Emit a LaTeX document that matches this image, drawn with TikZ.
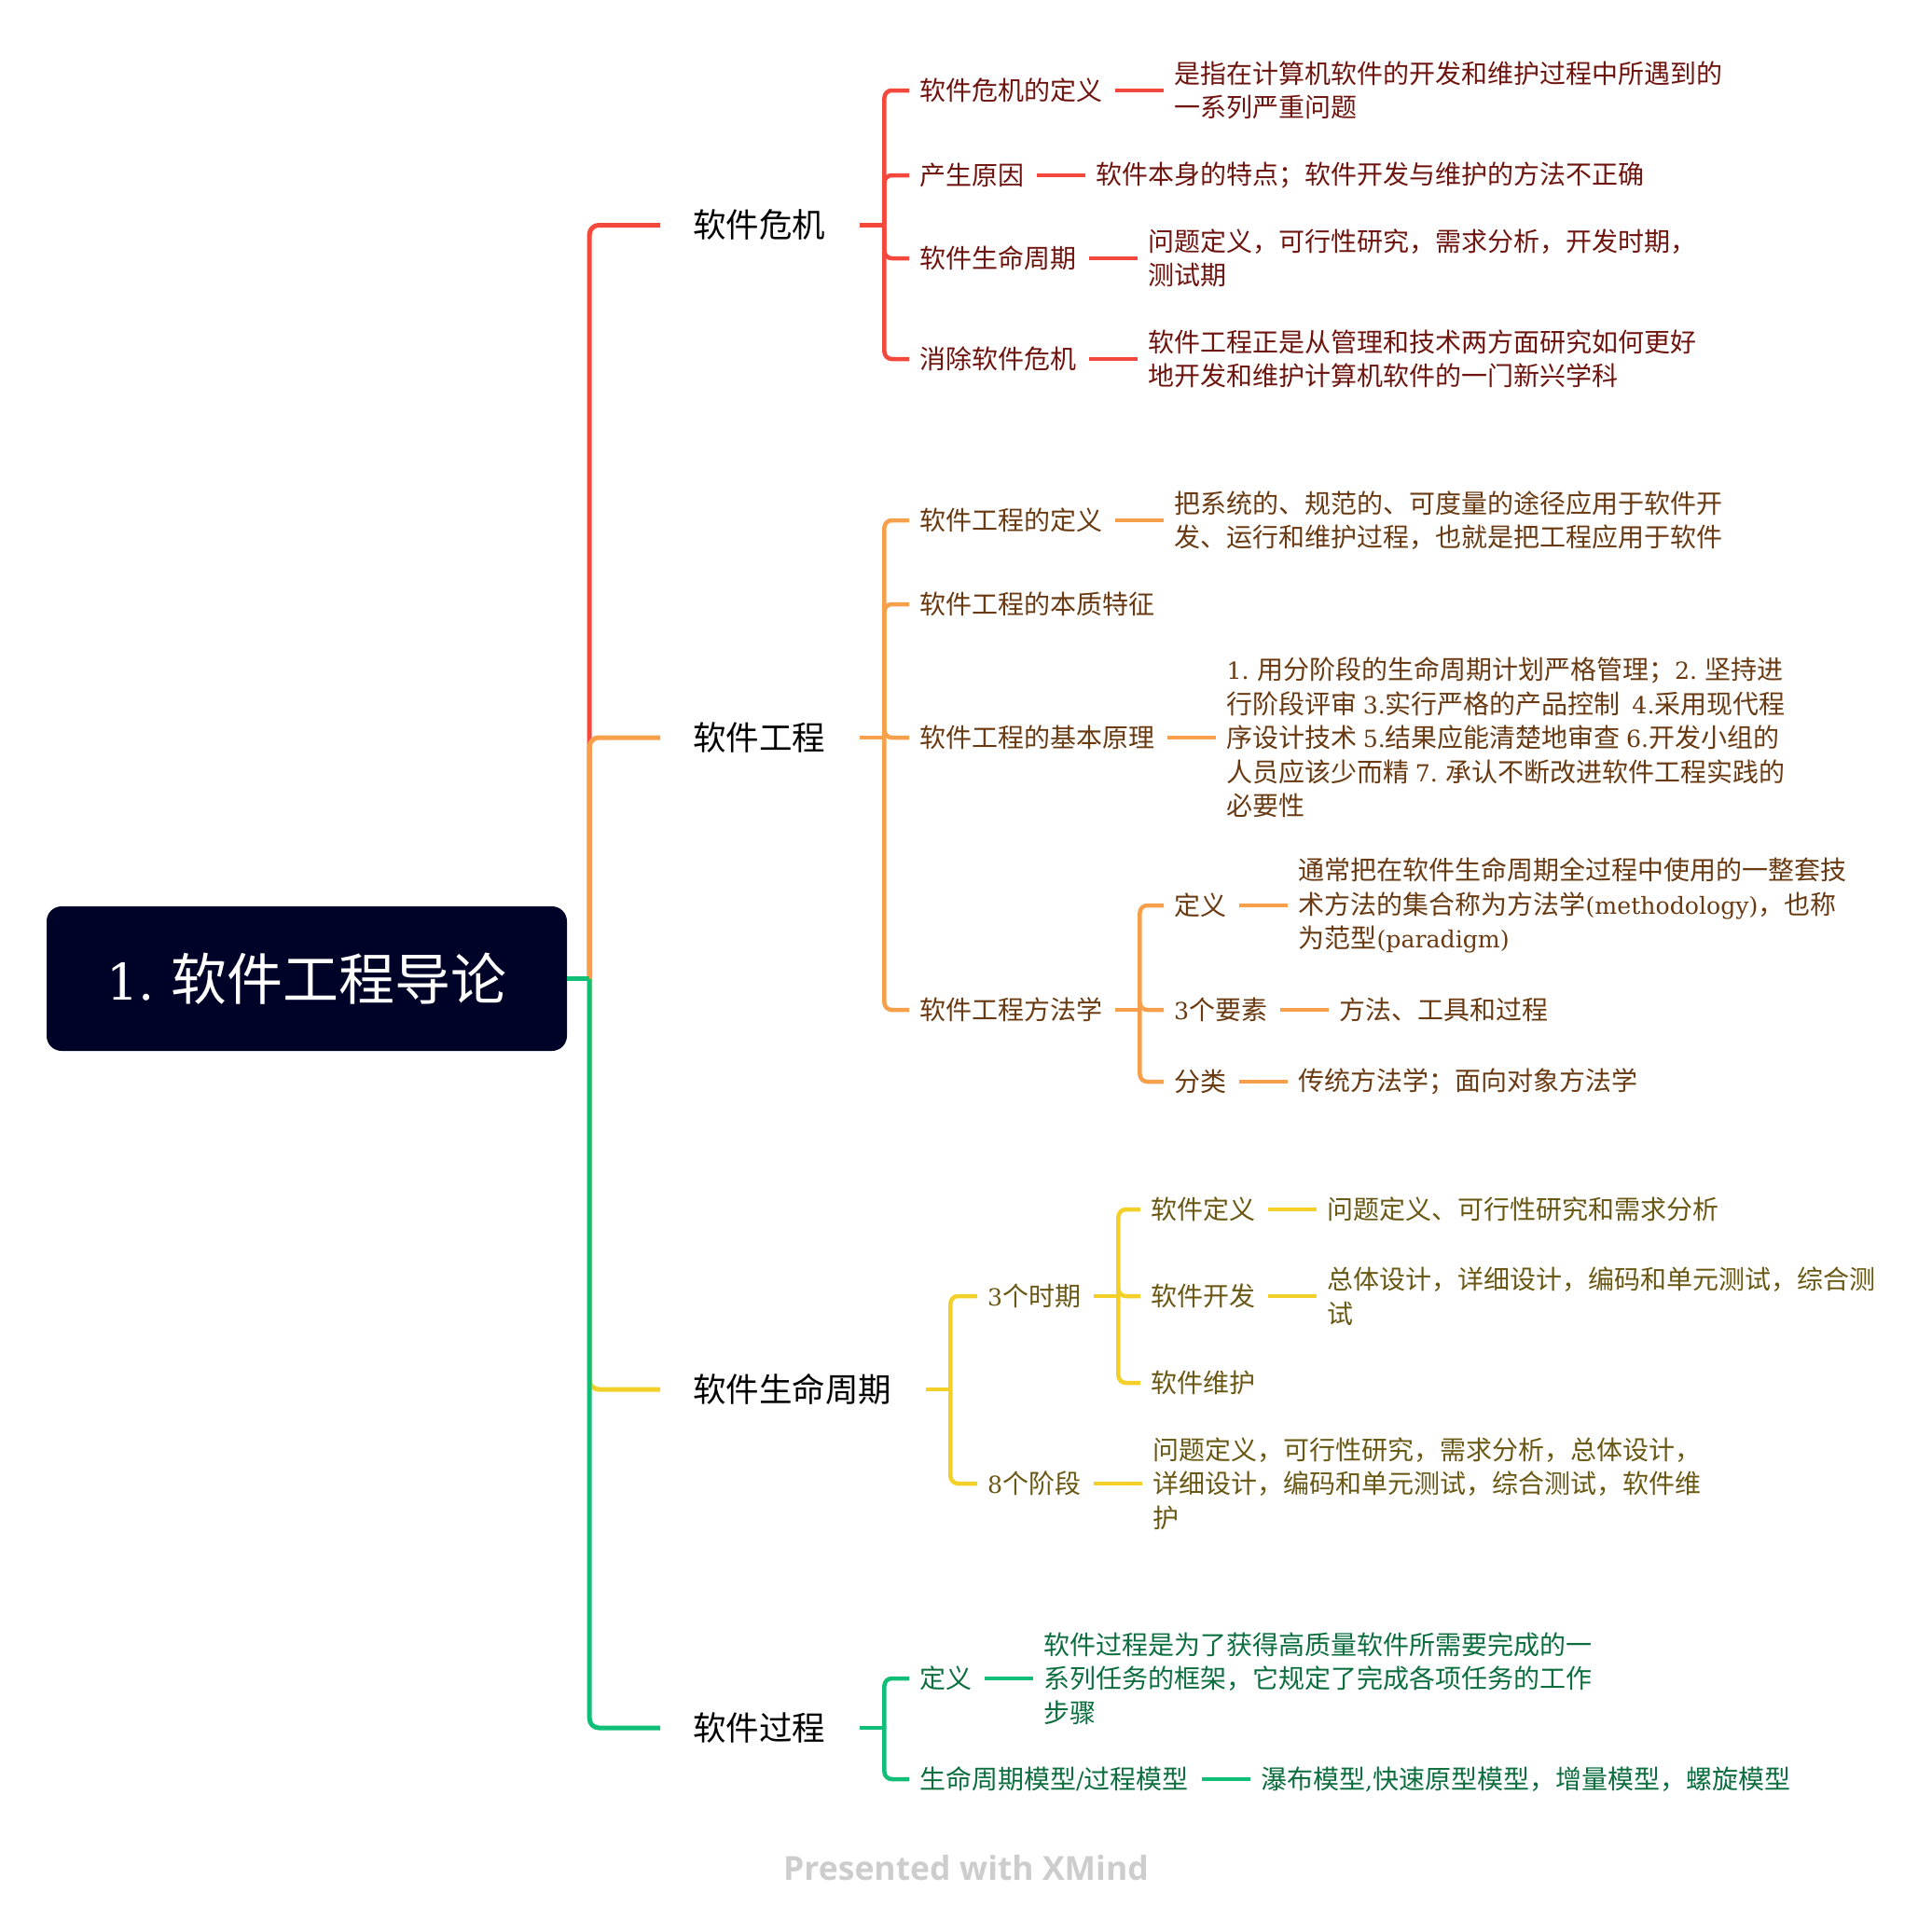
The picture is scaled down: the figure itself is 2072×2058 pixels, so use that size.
\documentclass[tikz,border=0pt]{standalone}
\usepackage{fontspec}
\setmainfont{Noto Sans CJK SC}
\newfontfamily\enfont{DejaVu Serif}[Scale=0.9]
\newfontfamily\xmfont{Open Sans}
\newcommand\en[1]{{\enfont #1}}
\usetikzlibrary{positioning}
\definecolor{rootblue}{RGB}{0,3,40}
\definecolor{redline}{RGB}{245,72,60}
\definecolor{redtext}{RGB}{110,20,15}
\definecolor{orangeline}{RGB}{247,160,75}
\definecolor{orangetext}{RGB}{105,58,18}
\definecolor{yellowline}{RGB}{242,208,40}
\definecolor{yellowtext}{RGB}{105,88,20}
\definecolor{greenline}{RGB}{16,190,120}
\definecolor{greentext}{RGB}{12,110,62}
\definecolor{creditgray}{RGB}{205,205,205}
\tikzset{
  root_n/.style = {rectangle, rounded corners=16pt, fill=rootblue, text=white, inner sep=0pt, minimum width=558pt, minimum height=155pt, font=\fontsize{60}{60}\selectfont},
  topic_n/.style = {anchor=west, inner sep=0pt, font=\fontsize{35.5}{40}\selectfont},
  sub_n/.style = {anchor=west, inner sep=0pt, text=#1, font=\fontsize{28}{36.5}\selectfont},
  desc_n/.style = {sub_n=#1, align=left},
  br_main/.style = {draw=#1, line width=5pt, rounded corners=10pt},
  br_sub/.style = {draw=#1, line width=4.5pt, rounded corners=8pt},
  credit/.style = {font=\xmfont\bfseries\fontsize{35.5}{40}\selectfont, text=creditgray}
}
\begin{document}
\begin{tikzpicture}[x=1pt, y=-1pt]
    \useasboundingbox (0,0) rectangle (2072,2058);
    \node[root_n] (root) at (329,1049.5) {\en{1.} 软件工程导论};
    \coordinate[right=24pt of root] (rootB);

    \node[topic_n] (crisis) at (743,241.5) {软件危机};
    \node[topic_n] (eng) at (743,791) {软件工程};
    \node[topic_n] (life) at (743,1490) {软件生命周期};
    \node[topic_n] (proc) at (743,1853) {软件过程};
    \coordinate[right=63pt of crisis] (crisisB);
    \coordinate[right=63pt of eng] (engB);
    \coordinate[right=63pt of life] (lifeB);
    \coordinate[right=63pt of proc] (procB);

    \node[sub_n=redtext] (cdef) at (986,97) {软件危机的定义};
    \node[desc_n=redtext, right=77pt of cdef] (cdef-txt) {是指在计算机软件的开发和维护过程中所遇到的\\一系列严重问题};
    \node[sub_n=redtext] (ccause) at (986,188) {产生原因};
    \node[desc_n=redtext, right=77pt of ccause] (ccause-txt) {软件本身的特点；软件开发与维护的方法不正确};
    \node[sub_n=redtext] (clife) at (986,277) {软件生命周期};
    \node[desc_n=redtext, right=77pt of clife] (clife-txt) {问题定义，可行性研究，需求分析，开发时期，\\测试期};
    \node[sub_n=redtext] (cfix) at (986,385) {消除软件危机};
    \node[desc_n=redtext, right=77pt of cfix] (cfix-txt) {软件工程正是从管理和技术两方面研究如何更好\\地开发和维护计算机软件的一门新兴学科};

    \node[sub_n=orangetext] (edef) at (986,558) {软件工程的定义};
    \node[desc_n=orangetext, right=77pt of edef] (edef-txt) {把系统的、规范的、可度量的途径应用于软件开\\发、运行和维护过程，也就是把工程应用于软件};
    \node[sub_n=orangetext] (eess) at (986,648) {软件工程的本质特征};
    \node[sub_n=orangetext] (eprin) at (986,791) {软件工程的基本原理};
    \node[desc_n=orangetext, right=77pt of eprin] (eprin-txt) {\en{1.} 用分阶段的生命周期计划严格管理；\en{2.} 坚持进\\行阶段评审 \en{3.}实行严格的产品控制\ \ \en{4.}采用现代程\\序设计技术 \en{5.}结果应能清楚地审查 \en{6.}开发小组的\\人员应该少而精 \en{7.} 承认不断改进软件工程实践的\\必要性};
    \node[sub_n=orangetext] (emeth) at (986,1083) {软件工程方法学};
    \coordinate[right=40pt of emeth] (emethB);
    \node[sub_n=orangetext] (mdef) at (1259,971) {定义};
    \node[desc_n=orangetext, right=77pt of mdef] (mdef-txt) {通常把在软件生命周期全过程中使用的一整套技\\术方法的集合称为方法学\en{(methodology)}，也称\\为范型\en{(paradigm)}};
    \node[sub_n=orangetext] (melem) at (1259,1083) {\en{3}个要素};
    \node[desc_n=orangetext, right=77pt of melem] (melem-txt) {方法、工具和过程};
    \node[sub_n=orangetext] (mcls) at (1259,1160) {分类};
    \node[desc_n=orangetext, right=77pt of mcls] (mcls-txt) {传统方法学；面向对象方法学};

    \node[sub_n=yellowtext] (lper) at (1059,1390) {\en{3}个时期};
    \coordinate[right=40pt of lper] (lperB);
    \node[sub_n=yellowtext] (pdef) at (1234,1297) {软件定义};
    \node[desc_n=yellowtext, right=77pt of pdef] (pdef-txt) {问题定义、可行性研究和需求分析};
    \node[sub_n=yellowtext] (pdev) at (1234,1390) {软件开发};
    \node[desc_n=yellowtext, right=77pt of pdev] (pdev-txt) {总体设计，详细设计，编码和单元测试，综合测\\试};
    \node[sub_n=yellowtext] (pmnt) at (1234,1483) {软件维护};
    \node[sub_n=yellowtext] (lstg) at (1059,1591) {\en{8}个阶段};
    \node[desc_n=yellowtext, right=77pt of lstg] (lstg-txt) {问题定义，可行性研究，需求分析，总体设计，\\详细设计，编码和单元测试，综合测试，软件维\\护};

    \node[sub_n=greentext] (gdef) at (986,1800) {定义};
    \node[desc_n=greentext, right=77pt of gdef] (gdef-txt) {软件过程是为了获得高质量软件所需要完成的一\\系列任务的框架，它规定了完成各项任务的工作\\步骤};
    \node[sub_n=greentext] (gmodel) at (986,1908) {生命周期模型\en{/}过程模型};
    \node[desc_n=greentext, right=77pt of gmodel] (gmodel-txt) {瀑布模型\en{,}快速原型模型，增量模型，螺旋模型};

    \node[credit] (credit) at (1036,2003) {Presented with XMind};

    \draw[br_main=redline, shorten >=35pt] (rootB) |- (crisis.west);
    \draw[br_main=orangeline, shorten >=35pt] (rootB) |- (eng.west);
    \draw[br_main=yellowline, shorten >=35pt] (rootB) |- (life.west);
    \draw[br_main=greenline, shorten >=35pt] (rootB) |- (proc.west);
    \draw[br_main=greenline] (root.east) -- (rootB);

    \draw[br_sub=redline, shorten <=37pt] (crisis.east) -- (crisisB);
    \foreach \c in {cdef,ccause,clife,cfix}
        \draw[br_sub=redline, shorten >=11pt] (crisisB) |- (\c.west);
    \foreach \c in {cdef,ccause,clife,cfix}
        \draw[br_sub=redline, shorten <=14pt, shorten >=11pt] (\c.east) -- (\c.east -| \c-txt.west);

    \draw[br_sub=orangeline, shorten <=37pt] (eng.east) -- (engB);
    \foreach \c in {edef,eess,eprin,emeth}
        \draw[br_sub=orangeline, shorten >=11pt] (engB) |- (\c.west);
    \foreach \c in {edef,eprin}
        \draw[br_sub=orangeline, shorten <=14pt, shorten >=11pt] (\c.east) -- (\c.east -| \c-txt.west);
    \draw[br_sub=orangeline, shorten <=14pt] (emeth.east) -- (emethB);
    \foreach \c in {mdef,melem,mcls}
        \draw[br_sub=orangeline, shorten >=11pt] (emethB) |- (\c.west);
    \foreach \c in {mdef,melem,mcls}
        \draw[br_sub=orangeline, shorten <=14pt, shorten >=11pt] (\c.east) -- (\c.east -| \c-txt.west);

    \draw[br_sub=yellowline, shorten <=37pt] (life.east) -- (lifeB);
    \foreach \c in {lper,lstg}
        \draw[br_sub=yellowline, shorten >=11pt] (lifeB) |- (\c.west);
    \draw[br_sub=yellowline, shorten <=14pt] (lper.east) -- (lperB);
    \foreach \c in {pdef,pdev,pmnt}
        \draw[br_sub=yellowline, shorten >=11pt] (lperB) |- (\c.west);
    \foreach \c in {pdef,pdev,lstg}
        \draw[br_sub=yellowline, shorten <=14pt, shorten >=11pt] (\c.east) -- (\c.east -| \c-txt.west);

    \draw[br_sub=greenline, shorten <=37pt] (proc.east) -- (procB);
    \foreach \c in {gdef,gmodel}
        \draw[br_sub=greenline, shorten >=11pt] (procB) |- (\c.west);
    \foreach \c in {gdef,gmodel}
        \draw[br_sub=greenline, shorten <=14pt, shorten >=11pt] (\c.east) -- (\c.east -| \c-txt.west);
\end{tikzpicture}
\end{document}
